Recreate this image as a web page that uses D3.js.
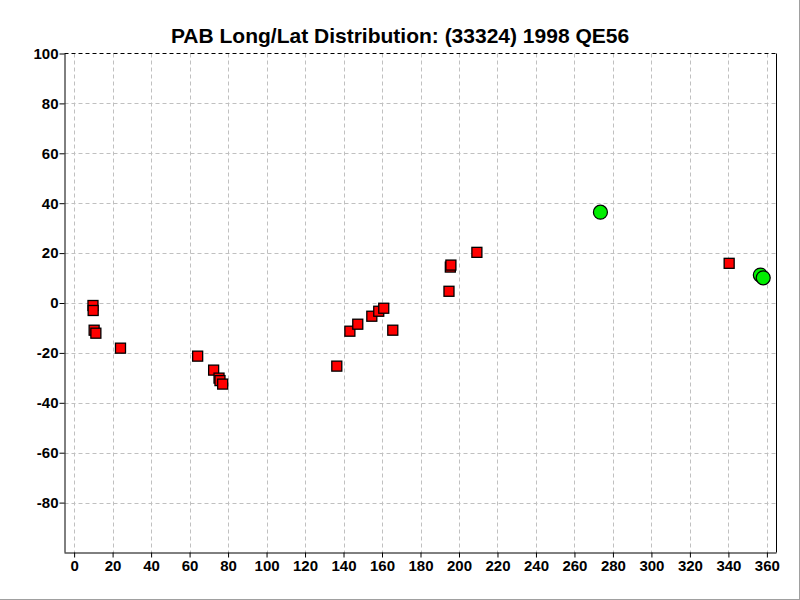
<!DOCTYPE html>
<html><head><meta charset="utf-8">
<script src="https://cdn.jsdelivr.net/npm/d3@7"></script>
<style>body{margin:0;background:#fff;}svg{display:block;}</style>
</head><body>
<svg id="c" width="800" height="600"></svg>
<script>
const title = "PAB Long/Lat Distribution: (33324) 1998 QE56";
const xTicks = [0,20,40,60,80,100,120,140,160,180,200,220,240,260,280,300,320,340,360];
const yTicks = [100,80,60,40,20,0,-20,-40,-60,-80];
const squareLon = [9.8,9.9,10.4,11.3,24.1,64.2,72.5,75.3,75.8,77.2,136.5,143.3,147.4,154.7,158.3,160.9,165.6,194.8,195.5,195.8,209.3,340.4];
const squareLat = [-1.0,-3.0,-10.9,-12.1,-18.1,-21.3,-26.9,-30.1,-31.1,-32.5,-25.3,-11.3,-8.5,-5.3,-3.3,-2.1,-10.9,4.7,14.4,15.2,20.3,15.9];
const circleLon = [273.5,356.6,358.1];
const circleLat = [36.4,11.2,10.1];

const svg = d3.select("#c");
const L=64.5, R=776.5, T=53.5, B=552.5;
const x = d3.scaleLinear().domain([-5,365]).range([L,R]);
const y = d3.scaleLinear().domain([-100,100]).range([B,T]);
const font = "'Liberation Sans', Arial, sans-serif";

// frame
svg.append("line").attr("x1",0).attr("x2",800).attr("y1",599.5).attr("y2",599.5).attr("stroke","#a0a0a0");
svg.append("line").attr("x1",799.5).attr("x2",799.5).attr("y1",0).attr("y2",600).attr("stroke","#a0a0a0");

// grid
const g = svg.append("g");
g.selectAll(".vg").data(xTicks).join("line")
  .attr("x1",d=>Math.round(x(d))+0.5).attr("x2",d=>Math.round(x(d))+0.5)
  .attr("y1",T).attr("y2",B).attr("stroke","#c0c0c0").attr("stroke-dasharray","4,3");
g.selectAll(".hg").data(yTicks.filter(d=>d!==100)).join("line")
  .attr("y1",d=>Math.round(y(d))+0.5).attr("y2",d=>Math.round(y(d))+0.5)
  .attr("x1",L).attr("x2",R).attr("stroke","#c0c0c0").attr("stroke-dasharray","4,3");

// borders
svg.append("line").attr("x1",L).attr("x2",R).attr("y1",T).attr("y2",T).attr("stroke","#000").attr("stroke-dasharray","4,3");
svg.append("line").attr("x1",R).attr("x2",R).attr("y1",T).attr("y2",B).attr("stroke","#000");

// axes
const fmt = d => String(d);
const xAxis = d3.axisBottom(x).tickValues(xTicks).tickFormat(fmt).tickSize(5).tickPadding(3);
const ax = svg.append("g").attr("transform",`translate(0,${B})`).call(xAxis);
ax.select(".domain").attr("d",`M${L},0.5H${R}`).attr("stroke","#000");
ax.selectAll(".tick line").attr("stroke","#000");
ax.selectAll(".tick text").attr("font-family",font).attr("font-weight","bold").attr("font-size","15px").attr("fill","#000");

const yAxis = d3.axisLeft(y).tickValues(yTicks).tickFormat(fmt).tickSize(5).tickPadding(1);
const ay = svg.append("g").attr("transform",`translate(${L},0)`).call(yAxis);
ay.select(".domain").attr("d",`M0.5,${T}V${B}`).attr("stroke","#000");
ay.selectAll(".tick line").attr("stroke","#000");
ay.selectAll(".tick text").attr("font-family",font).attr("font-weight","bold").attr("font-size","15px").attr("fill","#000");

// title
svg.append("text").attr("x",400).attr("y",43).attr("text-anchor","middle")
  .attr("font-family",font).attr("font-weight","bold").attr("font-size","21px").text(title);

// squares
const s = 10;
svg.selectAll(".sq").data(squareLon.map((d,i)=>[d,squareLat[i]])).join("rect")
  .attr("x",d=>x(d[0])-s/2).attr("y",d=>y(d[1])-s/2).attr("width",s).attr("height",s)
  .attr("fill","#ff0000").attr("stroke","#000").attr("stroke-width",1.3);

// circles
svg.selectAll(".ci").data(circleLon.map((d,i)=>[d,circleLat[i]])).join("circle")
  .attr("cx",d=>x(d[0])).attr("cy",d=>y(d[1])).attr("r",7)
  .attr("fill","#00ee00").attr("stroke","#000").attr("stroke-width",1.2);
</script>
</body></html>
